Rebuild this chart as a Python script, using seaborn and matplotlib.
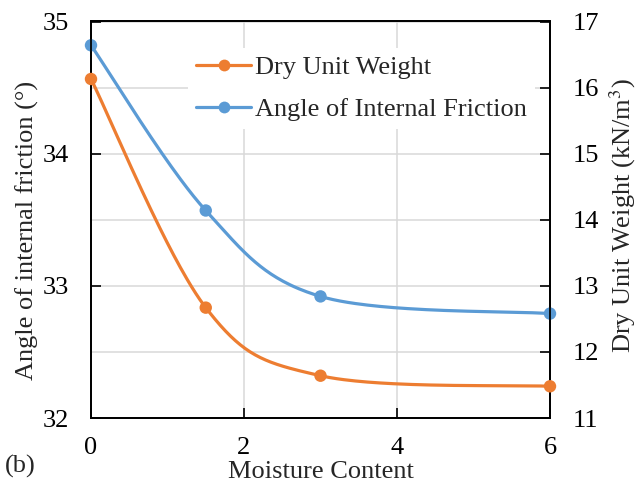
import numpy as np
import pandas as pd
import matplotlib
matplotlib.use("Agg")
import matplotlib.pyplot as plt
from matplotlib.lines import Line2D
import seaborn as sns

# Measured values
moisture = [0, 1.5, 3, 6]
friction_angle = [34.82, 33.57, 32.92, 32.79]      # degrees, left axis
dry_unit_weight = [16.13, 12.67, 11.64, 11.48]     # kN/m3, right axis

x_ticks = [0, 2, 4, 6]
left_ticks = [32, 33, 34, 35]
right_ticks = [11, 12, 13, 14, 15, 16, 17]

ORANGE = "#ED7D31"
BLUE = "#5B9BD5"

sns.set_style("ticks")
plt.rcParams["font.family"] = ["Liberation Serif", "DejaVu Serif"]
plt.rcParams["mathtext.fontset"] = "stix"

FS = 19

fig = plt.figure(figsize=(6.42, 4.94), dpi=100)
ax = fig.add_axes([91 / 642, 76 / 494, 459 / 642, 396.5 / 494])
ax2 = ax.twinx()

XLIM = (0, 6)
YL = (32, 35)
YR = (11, 17)
W, H = 459.0, 396.5


def smooth(xs, ys, ylim, n=60):
    """Bezier smoothing through the points, computed in screen proportions."""
    px = np.array(xs, float) / (XLIM[1] - XLIM[0]) * W
    py = (np.array(ys, float) - ylim[0]) / (ylim[1] - ylim[0]) * H
    pts = np.column_stack([px, py])
    out = []
    m = len(pts)
    for i in range(m - 1):
        p0 = pts[i - 1] if i > 0 else pts[i]
        p1 = pts[i]
        p2 = pts[i + 1]
        p3 = pts[i + 2] if i + 2 < m else pts[i + 1]
        c1 = p1 + (p2 - p0) / 6.0
        c2 = p2 - (p3 - p1) / 6.0
        t = np.linspace(0, 1, n)[:, None]
        seg = ((1 - t) ** 3) * p1 + 3 * ((1 - t) ** 2) * t * c1 + 3 * (1 - t) * t ** 2 * c2 + t ** 3 * p2
        out.append(seg if i == 0 else seg[1:])
    c = np.vstack(out)
    cx = c[:, 0] / W * (XLIM[1] - XLIM[0])
    cy = c[:, 1] / H * (ylim[1] - ylim[0]) + ylim[0]
    return pd.DataFrame({"x": cx, "y": cy})


fr_curve = smooth(moisture, friction_angle, YL)
dw_curve = smooth(moisture, dry_unit_weight, YR)

sns.lineplot(data=fr_curve, x="x", y="y", sort=False, ax=ax, color=BLUE, lw=2.3, legend=False)
sns.scatterplot(x=moisture, y=friction_angle, ax=ax, color=BLUE, s=80, edgecolor="none", legend=False, zorder=3)

sns.lineplot(data=dw_curve, x="x", y="y", sort=False, ax=ax2, color=ORANGE, lw=2.3, legend=False)
sns.scatterplot(x=moisture, y=dry_unit_weight, ax=ax2, color=ORANGE, s=80, edgecolor="none", legend=False, zorder=3)

for a in (ax, ax2):
    a.set_xlim(*XLIM)
    for s in a.spines.values():
        s.set_color("black")
        s.set_linewidth(1.3)
for coll in ax.collections + ax2.collections:
    coll.set_clip_on(False)

ax.set_ylim(*YL)
ax2.set_ylim(*YR)
ax.set_xticks(x_ticks)
ax.set_yticks(left_ticks)
ax.set_yticks(np.arange(32.5, 35, 1.0), minor=True)
ax2.set_yticks(right_ticks)

ax.grid(True, which="major", axis="both", color="#D9D9D9", lw=1.1)
ax.grid(True, which="minor", axis="y", color="#D9D9D9", lw=1.1)
ax.set_axisbelow(True)

ax.tick_params(axis="both", which="major", direction="in", length=7, width=1.2,
               labelsize=FS, pad=16, colors="black")
ax.tick_params(axis="y", which="minor", length=0)
ax2.tick_params(axis="y", direction="in", length=7, width=1.2, labelsize=FS, pad=16, colors="black")
ax.tick_params(axis="x", pad=14)

ax.set_xlabel("Moisture Content", fontsize=FS, labelpad=1)
ax.set_ylabel("Angle of internal friction (°)", fontsize=FS)
ax2.set_ylabel("Dry Unit Weight (kN/m$^3$)", fontsize=FS)
ax.yaxis.set_label_coords(-0.113, 0.472)
ax2.yaxis.set_label_coords(1.126, 0.511)

fig.text(5 / 642, 1 - 466 / 494, "(b)", fontsize=FS, va="center", ha="left")

handles = [
    Line2D([0], [0], color=ORANGE, lw=2.3, marker="o", markersize=8.5, markeredgewidth=0),
    Line2D([0], [0], color=BLUE, lw=2.3, marker="o", markersize=8.5, markeredgewidth=0),
]
leg = ax2.legend(handles, ["Dry Unit Weight", "Angle of Internal Friction"],
                 loc="upper left", bbox_to_anchor=(188 / 642, 1 - 48 / 494),
                 bbox_transform=fig.transFigure, fontsize=FS, frameon=True,
                 facecolor="white", edgecolor="none", framealpha=1, fancybox=False,
                 handlelength=2.1, handletextpad=0.15, labelspacing=0.68,
                 borderpad=0.3, borderaxespad=0)
leg.set_zorder(10)

fig.savefig("out.png", dpi=100)
